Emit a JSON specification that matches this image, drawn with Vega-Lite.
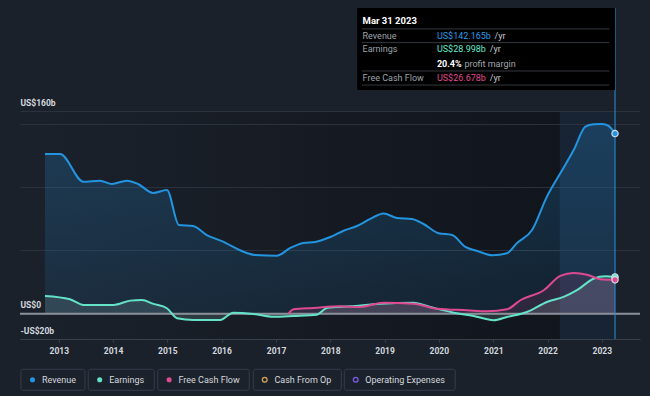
{
  "$schema": "https://vega.github.io/schema/vega-lite/v6.json",
  "width": 620,
  "height": 228,
  "autosize": {"type": "none"},
  "padding": {"left": 20, "top": 111, "right": 10, "bottom": 57},
  "background": "#1b212b",
  "config": {
    "font": "Roboto",
    "view": {
      "stroke": null,
      "fill": {
        "gradient": "linear", "x1": 0, "y1": 0, "x2": 1, "y2": 0,
        "stops": [
          {"offset": 0, "color": "#1b212b"},
          {"offset": 0.04, "color": "#1b212b"},
          {"offset": 0.87, "color": "#11151c"},
          {"offset": 0.871, "color": "#182434"},
          {"offset": 0.959, "color": "#182434"},
          {"offset": 0.96, "color": "#1b212b"},
          {"offset": 1, "color": "#1b212b"}
        ]
      }
    },
    "axisX": {
      "domainColor": "#3a404b", "tickColor": "#3a404b", "tickSize": 3, "labelPadding": 4,
      "labelColor": "#d4d8de", "labelFontSize": 8.5, "labelFontWeight": "bold", "grid": false,
      "labelFlush": false, "labelOverlap": false
    },
    "axisY": {
      "domain": false, "ticks": false, "grid": true, "gridColor": "#2b323d", "gridWidth": 1,
      "labelAlign": "left", "labelPadding": 0, "labelBaseline": "alphabetic", "labelOffset": -6,
      "labelColor": "#d4d8de", "labelFontSize": 8.5, "labelFontWeight": "bold", "labelOverlap": false
    },
    "text": {"align": "left", "baseline": "middle", "fontSize": 9}
  },
  "data": {
    "values": [
      {"date": "2012-09-30", "series": "Revenue", "value": 126.1},
      {"date": "2013-01-10", "series": "Revenue", "value": 126.1},
      {"date": "2013-06-15", "series": "Revenue", "value": 104.2},
      {"date": "2013-10-05", "series": "Revenue", "value": 105.0},
      {"date": "2013-12-24", "series": "Revenue", "value": 102.4},
      {"date": "2014-04-03", "series": "Revenue", "value": 105.0},
      {"date": "2014-06-18", "series": "Revenue", "value": 102.4},
      {"date": "2014-09-27", "series": "Revenue", "value": 95.3},
      {"date": "2014-12-29", "series": "Revenue", "value": 97.7},
      {"date": "2015-03-20", "series": "Revenue", "value": 70.0},
      {"date": "2015-06-23", "series": "Revenue", "value": 69.2},
      {"date": "2015-09-23", "series": "Revenue", "value": 62.1},
      {"date": "2016-01-02", "series": "Revenue", "value": 57.3},
      {"date": "2016-06-19", "series": "Revenue", "value": 47.9},
      {"date": "2016-08-14", "series": "Revenue", "value": 46.3},
      {"date": "2017-01-08", "series": "Revenue", "value": 45.8},
      {"date": "2017-04-07", "series": "Revenue", "value": 51.9},
      {"date": "2017-07-05", "series": "Revenue", "value": 55.8},
      {"date": "2017-09-22", "series": "Revenue", "value": 56.6},
      {"date": "2018-01-01", "series": "Revenue", "value": 60.5},
      {"date": "2018-03-28", "series": "Revenue", "value": 65.3},
      {"date": "2018-06-29", "series": "Revenue", "value": 69.2},
      {"date": "2018-09-27", "series": "Revenue", "value": 74.8},
      {"date": "2018-12-25", "series": "Revenue", "value": 79.1},
      {"date": "2019-03-25", "series": "Revenue", "value": 75.6},
      {"date": "2019-07-04", "series": "Revenue", "value": 74.8},
      {"date": "2019-09-20", "series": "Revenue", "value": 70.8},
      {"date": "2019-12-30", "series": "Revenue", "value": 63.5},
      {"date": "2020-03-30", "series": "Revenue", "value": 62.1},
      {"date": "2020-06-28", "series": "Revenue", "value": 52.7},
      {"date": "2020-09-15", "series": "Revenue", "value": 49.5},
      {"date": "2020-12-25", "series": "Revenue", "value": 46.1},
      {"date": "2021-04-04", "series": "Revenue", "value": 47.7},
      {"date": "2021-06-10", "series": "Revenue", "value": 55.8},
      {"date": "2021-09-19", "series": "Revenue", "value": 66.1},
      {"date": "2021-12-28", "series": "Revenue", "value": 92.4},
      {"date": "2022-03-28", "series": "Revenue", "value": 110.8},
      {"date": "2022-06-26", "series": "Revenue", "value": 129.2},
      {"date": "2022-09-13", "series": "Revenue", "value": 147.6},
      {"date": "2022-11-07", "series": "Revenue", "value": 149.5},
      {"date": "2023-01-03", "series": "Revenue", "value": 149.8},
      {"date": "2023-02-16", "series": "Revenue", "value": 148.2},
      {"date": "2023-03-31", "series": "Revenue", "value": 142.165},
      {"date": "2012-09-30", "series": "Earnings", "value": 14.0},
      {"date": "2013-03-17", "series": "Earnings", "value": 11.4},
      {"date": "2013-06-16", "series": "Earnings", "value": 6.9},
      {"date": "2014-01-04", "series": "Earnings", "value": 6.9},
      {"date": "2014-04-26", "series": "Earnings", "value": 10.3},
      {"date": "2014-07-14", "series": "Earnings", "value": 10.8},
      {"date": "2014-09-30", "series": "Earnings", "value": 7.7},
      {"date": "2014-12-29", "series": "Earnings", "value": 4.3},
      {"date": "2015-03-07", "series": "Earnings", "value": -3.6},
      {"date": "2015-06-26", "series": "Earnings", "value": -5.0},
      {"date": "2015-12-22", "series": "Earnings", "value": -5.0},
      {"date": "2016-03-20", "series": "Earnings", "value": 0.8},
      {"date": "2016-08-03", "series": "Earnings", "value": -0.2},
      {"date": "2016-12-15", "series": "Earnings", "value": -2.4},
      {"date": "2017-04-29", "series": "Earnings", "value": -1.8},
      {"date": "2017-10-03", "series": "Earnings", "value": -0.8},
      {"date": "2017-12-09", "series": "Earnings", "value": 4.5},
      {"date": "2018-05-15", "series": "Earnings", "value": 5.8},
      {"date": "2018-12-03", "series": "Earnings", "value": 7.9},
      {"date": "2019-07-15", "series": "Earnings", "value": 8.7},
      {"date": "2019-11-04", "series": "Earnings", "value": 5.3},
      {"date": "2020-04-10", "series": "Earnings", "value": 0.8},
      {"date": "2020-08-22", "series": "Earnings", "value": -1.8},
      {"date": "2021-01-04", "series": "Earnings", "value": -5.2},
      {"date": "2021-04-04", "series": "Earnings", "value": -2.6},
      {"date": "2021-08-16", "series": "Earnings", "value": 1.3},
      {"date": "2021-12-28", "series": "Earnings", "value": 9.2},
      {"date": "2022-04-19", "series": "Earnings", "value": 13.2},
      {"date": "2022-07-18", "series": "Earnings", "value": 18.5},
      {"date": "2022-11-06", "series": "Earnings", "value": 27.6},
      {"date": "2023-01-25", "series": "Earnings", "value": 29.5},
      {"date": "2023-03-31", "series": "Earnings", "value": 28.998},
      {"date": "2017-03-26", "series": "Free Cash Flow", "value": 0.0},
      {"date": "2017-04-29", "series": "Free Cash Flow", "value": 3.5},
      {"date": "2017-09-10", "series": "Free Cash Flow", "value": 4.5},
      {"date": "2018-03-08", "series": "Free Cash Flow", "value": 5.8},
      {"date": "2018-07-21", "series": "Free Cash Flow", "value": 5.3},
      {"date": "2018-12-25", "series": "Free Cash Flow", "value": 8.7},
      {"date": "2019-07-15", "series": "Free Cash Flow", "value": 7.9},
      {"date": "2019-12-19", "series": "Free Cash Flow", "value": 3.9},
      {"date": "2020-07-09", "series": "Free Cash Flow", "value": 2.7},
      {"date": "2020-11-20", "series": "Free Cash Flow", "value": 1.9},
      {"date": "2021-04-04", "series": "Free Cash Flow", "value": 3.5},
      {"date": "2021-07-02", "series": "Free Cash Flow", "value": 10.6},
      {"date": "2021-12-06", "series": "Free Cash Flow", "value": 18.5},
      {"date": "2022-03-28", "series": "Free Cash Flow", "value": 29.8},
      {"date": "2022-06-26", "series": "Free Cash Flow", "value": 32.1},
      {"date": "2022-09-24", "series": "Free Cash Flow", "value": 30.8},
      {"date": "2022-12-22", "series": "Free Cash Flow", "value": 27.2},
      {"date": "2023-03-31", "series": "Free Cash Flow", "value": 26.678}
    ]
  },
  "layer": [
    {
      "transform": [{"filter": "datum.series == 'Revenue'"}],
      "mark": {
        "type": "area", "interpolate": "monotone",
        "color": {
          "gradient": "linear", "x1": 0, "y1": 1, "x2": 0, "y2": 0,
          "stops": [
            {"offset": 0, "color": "rgba(35,148,224,0.10)"},
            {"offset": 1, "color": "rgba(35,148,224,0.24)"}
          ]
        }
      },
      "encoding": {
        "x": {
          "field": "date", "type": "temporal",
          "scale": {"domain": [{"year": 2012, "month": 4, "date": 15}, {"year": 2023, "month": 9, "date": 15}]},
          "axis": {
            "title": null, "format": "%Y",
            "values": [
              {"year": 2013, "month": 1, "date": 1}, {"year": 2014, "month": 1, "date": 1},
              {"year": 2015, "month": 1, "date": 1}, {"year": 2016, "month": 1, "date": 1},
              {"year": 2017, "month": 1, "date": 1}, {"year": 2018, "month": 1, "date": 1},
              {"year": 2019, "month": 1, "date": 1}, {"year": 2020, "month": 1, "date": 1},
              {"year": 2021, "month": 1, "date": 1}, {"year": 2022, "month": 1, "date": 1},
              {"year": 2023, "month": 1, "date": 1}
            ]
          }
        },
        "y": {
          "field": "value", "type": "quantitative",
          "scale": {"domain": [-20, 160], "nice": false, "zero": false},
          "axis": {
            "title": null, "values": [-20, 0, 50, 100, 150, 160],
            "labelExpr": "datum.value == 160 ? 'US$160b' : datum.value == 0 ? 'US$0' : datum.value == -20 ? '-US$20b' : ''"
          }
        }
      }
    },
    {
      "transform": [{"filter": "datum.series == 'Earnings'"}],
      "mark": {"type": "area", "interpolate": "monotone", "color": "#9fc8cc", "opacity": 0.17},
      "encoding": {
        "x": {"field": "date", "type": "temporal"},
        "y": {"field": "value", "type": "quantitative"}
      }
    },
    {
      "transform": [{"filter": "datum.series == 'Free Cash Flow'"}],
      "mark": {"type": "area", "interpolate": "monotone", "color": "#dd4a91", "opacity": 0.13},
      "encoding": {
        "x": {"field": "date", "type": "temporal"},
        "y": {"field": "value", "type": "quantitative"}
      }
    },
    {
      "data": {"values": [{}]},
      "mark": {"type": "rule", "color": "#8a8f99", "strokeWidth": 2},
      "encoding": {"y": {"datum": 0, "type": "quantitative"}}
    },
    {
      "mark": {"type": "line", "interpolate": "monotone", "strokeWidth": 2},
      "encoding": {
        "x": {"field": "date", "type": "temporal"},
        "y": {"field": "value", "type": "quantitative"},
        "color": {
          "field": "series", "type": "nominal",
          "scale": {
            "domain": ["Revenue", "Earnings", "Free Cash Flow", "Cash From Op", "Operating Expenses"],
            "range": ["#2394e0", "#64e3c8", "#dd4a91", "#d9a25b", "#7b5ce5"]
          },
          "legend": null
        }
      }
    },
    {
      "data": {"values": [{}]},
      "layer": [
        {
          "mark": {"type": "rule", "color": "#2394e0", "strokeWidth": 1},
          "encoding": {
            "x": {"datum": {"year": 2023, "month": 3, "date": 31}, "type": "temporal"},
            "y": {"datum": -20, "type": "quantitative"},
            "y2": {"datum": 241.3}
          }
        },
        {
          "mark": {"type": "rect", "color": "#000000"},
          "encoding": {
            "x": {"datum": {"year": 2018, "month": 7, "date": 1}, "type": "temporal"},
            "x2": {"datum": {"year": 2023, "month": 3, "date": 31}},
            "y": {"datum": 241.3, "type": "quantitative"},
            "y2": {"datum": 176.6}
          }
        },
        {
          "mark": {"type": "rule", "color": "#33383f", "strokeWidth": 1},
          "encoding": {
            "x": {"datum": {"year": 2018, "month": 8, "date": 2}, "type": "temporal"},
            "x2": {"datum": {"year": 2023, "month": 2, "date": 21}},
            "y": {"datum": 224.8, "type": "quantitative"}
          }
        },
        {
          "mark": {"type": "rule", "color": "#33383f", "strokeWidth": 1},
          "encoding": {
            "x": {"datum": {"year": 2018, "month": 8, "date": 2}, "type": "temporal"},
            "x2": {"datum": {"year": 2023, "month": 2, "date": 21}},
            "y": {"datum": 214, "type": "quantitative"}
          }
        },
        {
          "mark": {"type": "rule", "color": "#33383f", "strokeWidth": 1},
          "encoding": {
            "x": {"datum": {"year": 2018, "month": 8, "date": 2}, "type": "temporal"},
            "x2": {"datum": {"year": 2023, "month": 2, "date": 21}},
            "y": {"datum": 191.6, "type": "quantitative"}
          }
        },
        {
          "mark": {"type": "rule", "color": "#33383f", "strokeWidth": 1},
          "encoding": {
            "x": {"datum": {"year": 2018, "month": 8, "date": 2}, "type": "temporal"},
            "x2": {"datum": {"year": 2023, "month": 2, "date": 21}},
            "y": {"datum": 180.5, "type": "quantitative"}
          }
        },
        {
          "mark": {"type": "text", "text": "Mar 31 2023", "fontSize": 9.5, "fontWeight": "bold", "color": "#ffffff"},
          "encoding": {
            "x": {"datum": {"year": 2018, "month": 8, "date": 6}, "type": "temporal"},
            "y": {"datum": 231.3, "type": "quantitative"}
          }
        },
        {
          "mark": {"type": "text", "text": "Revenue", "color": "#9ea3aa"},
          "encoding": {
            "x": {"datum": {"year": 2018, "month": 8, "date": 6}, "type": "temporal"},
            "y": {"datum": 219.2, "type": "quantitative"}
          }
        },
        {
          "mark": {"type": "text", "text": "Earnings", "color": "#9ea3aa"},
          "encoding": {
            "x": {"datum": {"year": 2018, "month": 8, "date": 6}, "type": "temporal"},
            "y": {"datum": 208.7, "type": "quantitative"}
          }
        },
        {
          "mark": {"type": "text", "text": "Free Cash Flow", "color": "#9ea3aa"},
          "encoding": {
            "x": {"datum": {"year": 2018, "month": 8, "date": 6}, "type": "temporal"},
            "y": {"datum": 186.3, "type": "quantitative"}
          }
        },
        {
          "mark": {"type": "text", "text": "US$142.165b", "color": "#2d9ae6"},
          "encoding": {
            "x": {"datum": {"year": 2019, "month": 12, "date": 19}, "type": "temporal"},
            "y": {"datum": 219.2, "type": "quantitative"}
          }
        },
        {
          "mark": {"type": "text", "text": "US$28.998b", "color": "#62e8cc"},
          "encoding": {
            "x": {"datum": {"year": 2019, "month": 12, "date": 19}, "type": "temporal"},
            "y": {"datum": 208.7, "type": "quantitative"}
          }
        },
        {
          "mark": {"type": "text", "text": "20.4%", "fontWeight": "bold", "color": "#ffffff"},
          "encoding": {
            "x": {"datum": {"year": 2019, "month": 12, "date": 19}, "type": "temporal"},
            "y": {"datum": 197.1, "type": "quantitative"}
          }
        },
        {
          "mark": {"type": "text", "text": "profit margin", "color": "#a3a7ad"},
          "encoding": {
            "x": {"datum": {"year": 2020, "month": 6, "date": 21}, "type": "temporal"},
            "y": {"datum": 197.1, "type": "quantitative"}
          }
        },
        {
          "mark": {"type": "text", "text": "US$26.678b", "color": "#e04a8f"},
          "encoding": {
            "x": {"datum": {"year": 2019, "month": 12, "date": 19}, "type": "temporal"},
            "y": {"datum": 186.3, "type": "quantitative"}
          }
        },
        {
          "mark": {"type": "text", "text": "/yr", "color": "#c8cbd0"},
          "encoding": {
            "x": {"datum": {"year": 2021, "month": 1, "date": 9}, "type": "temporal"},
            "y": {"datum": 219.2, "type": "quantitative"}
          }
        },
        {
          "mark": {"type": "text", "text": "/yr", "color": "#c8cbd0"},
          "encoding": {
            "x": {"datum": {"year": 2020, "month": 12, "date": 8}, "type": "temporal"},
            "y": {"datum": 208.7, "type": "quantitative"}
          }
        },
        {
          "mark": {"type": "text", "text": "/yr", "color": "#c8cbd0"},
          "encoding": {
            "x": {"datum": {"year": 2020, "month": 12, "date": 8}, "type": "temporal"},
            "y": {"datum": 186.3, "type": "quantitative"}
          }
        }
      ]
    },
    {
      "transform": [{"filter": "year(datum.date) == 2023 && month(datum.date) == 2"}],
      "mark": {"type": "point", "filled": true, "size": 40, "stroke": "#d5dde6", "strokeWidth": 1.2, "opacity": 1},
      "encoding": {
        "x": {"field": "date", "type": "temporal"},
        "y": {"field": "value", "type": "quantitative"},
        "color": {"field": "series", "type": "nominal", "legend": null}
      }
    },
    {
      "data": {"values": [{}]},
      "layer": [
        {
          "mark": {"type": "rect", "fill": "#1c222c", "stroke": "#363d4a", "strokeWidth": 1, "cornerRadius": 2},
          "encoding": {
            "x": {"datum": {"year": 2012, "month": 4, "date": 21}, "type": "temporal"},
            "x2": {"datum": {"year": 2013, "month": 6, "date": 26}},
            "y": {"datum": -43.9, "type": "quantitative"},
            "y2": {"datum": -60.5}
          }
        },
        {
          "mark": {"type": "rect", "fill": "#1c222c", "stroke": "#363d4a", "strokeWidth": 1, "cornerRadius": 2},
          "encoding": {
            "x": {"datum": {"year": 2013, "month": 7, "date": 18}, "type": "temporal"},
            "x2": {"datum": {"year": 2014, "month": 10, "date": 5}},
            "y": {"datum": -43.9, "type": "quantitative"},
            "y2": {"datum": -60.5}
          }
        },
        {
          "mark": {"type": "rect", "fill": "#1c222c", "stroke": "#363d4a", "strokeWidth": 1, "cornerRadius": 2},
          "encoding": {
            "x": {"datum": {"year": 2014, "month": 10, "date": 28}, "type": "temporal"},
            "x2": {"datum": {"year": 2016, "month": 7, "date": 5}},
            "y": {"datum": -43.9, "type": "quantitative"},
            "y2": {"datum": -60.5}
          }
        },
        {
          "mark": {"type": "rect", "fill": "#1c222c", "stroke": "#363d4a", "strokeWidth": 1, "cornerRadius": 2},
          "encoding": {
            "x": {"datum": {"year": 2016, "month": 8, "date": 1}, "type": "temporal"},
            "x2": {"datum": {"year": 2018, "month": 3, "date": 16}},
            "y": {"datum": -43.9, "type": "quantitative"},
            "y2": {"datum": -60.5}
          }
        },
        {
          "mark": {"type": "rect", "fill": "#1c222c", "stroke": "#363d4a", "strokeWidth": 1, "cornerRadius": 2},
          "encoding": {
            "x": {"datum": {"year": 2018, "month": 4, "date": 5}, "type": "temporal"},
            "x2": {"datum": {"year": 2020, "month": 4, "date": 20}},
            "y": {"datum": -43.9, "type": "quantitative"},
            "y2": {"datum": -60.5}
          }
        },
        {
          "mark": {"type": "point", "shape": "circle", "filled": true, "size": 26, "color": "#2394e0", "opacity": 1},
          "encoding": {
            "x": {"datum": {"year": 2012, "month": 7, "date": 8}, "type": "temporal"},
            "y": {"datum": -52.2, "type": "quantitative"}
          }
        },
        {
          "mark": {"type": "point", "shape": "circle", "filled": true, "size": 26, "color": "#64e3c8", "opacity": 1},
          "encoding": {
            "x": {"datum": {"year": 2013, "month": 10, "date": 3}, "type": "temporal"},
            "y": {"datum": -52.2, "type": "quantitative"}
          }
        },
        {
          "mark": {"type": "point", "shape": "circle", "filled": true, "size": 26, "color": "#dd4a91", "opacity": 1},
          "encoding": {
            "x": {"datum": {"year": 2015, "month": 1, "date": 13}, "type": "temporal"},
            "y": {"datum": -52.2, "type": "quantitative"}
          }
        },
        {
          "mark": {"type": "point", "shape": "circle", "filled": false, "size": 22, "color": "#d9a25b", "strokeWidth": 1.3, "opacity": 1},
          "encoding": {
            "x": {"datum": {"year": 2016, "month": 10, "date": 17}, "type": "temporal"},
            "y": {"datum": -52.2, "type": "quantitative"}
          }
        },
        {
          "mark": {"type": "point", "shape": "circle", "filled": false, "size": 22, "color": "#7b5ce5", "strokeWidth": 1.3, "opacity": 1},
          "encoding": {
            "x": {"datum": {"year": 2018, "month": 6, "date": 21}, "type": "temporal"},
            "y": {"datum": -52.2, "type": "quantitative"}
          }
        },
        {
          "mark": {"type": "text", "text": "Revenue", "color": "#d4d8de"},
          "encoding": {
            "x": {"datum": {"year": 2012, "month": 9, "date": 10}, "type": "temporal"},
            "y": {"datum": -52.2, "type": "quantitative"}
          }
        },
        {
          "mark": {"type": "text", "text": "Earnings", "color": "#d4d8de"},
          "encoding": {
            "x": {"datum": {"year": 2013, "month": 12, "date": 6}, "type": "temporal"},
            "y": {"datum": -52.2, "type": "quantitative"}
          }
        },
        {
          "mark": {"type": "text", "text": "Free Cash Flow", "color": "#d4d8de"},
          "encoding": {
            "x": {"datum": {"year": 2015, "month": 3, "date": 17}, "type": "temporal"},
            "y": {"datum": -52.2, "type": "quantitative"}
          }
        },
        {
          "mark": {"type": "text", "text": "Cash From Op", "color": "#d4d8de"},
          "encoding": {
            "x": {"datum": {"year": 2016, "month": 12, "date": 21}, "type": "temporal"},
            "y": {"datum": -52.2, "type": "quantitative"}
          }
        },
        {
          "mark": {"type": "text", "text": "Operating Expenses", "color": "#d4d8de"},
          "encoding": {
            "x": {"datum": {"year": 2018, "month": 8, "date": 24}, "type": "temporal"},
            "y": {"datum": -52.2, "type": "quantitative"}
          }
        }
      ]
    }
  ]
}
